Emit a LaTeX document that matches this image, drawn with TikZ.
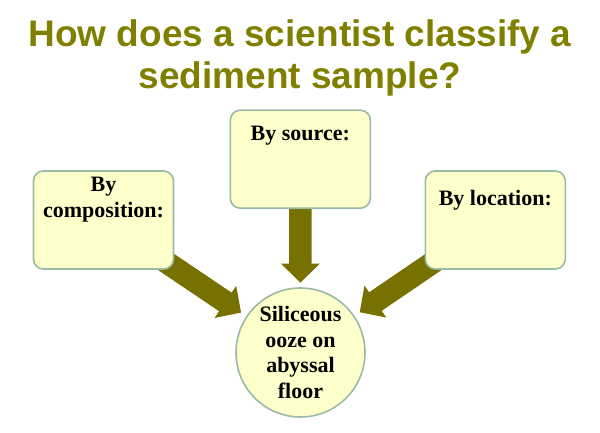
\documentclass[tikz,border=0pt]{standalone}
\usepackage{fontspec}
\setmainfont{Liberation Serif}
\newfontfamily\titlefont{Liberation Sans}
\usetikzlibrary{positioning, arrows.meta, backgrounds}
\definecolor{titleolive}{RGB}{128,128,0}
\definecolor{arrowolive}{RGB}{118,113,0}
\definecolor{boxfill}{RGB}{255,255,204}
\definecolor{boxline}{RGB}{155,186,165}

\begin{document}
\begin{tikzpicture}[x=1pt, y=-1pt,
	box/.style={draw=boxline, fill=boxfill, line width=1.6pt, rounded corners=10pt, minimum width=140pt, minimum height=98pt},
	boxtext/.style={inner sep=0pt, align=center, font=\bfseries\fontsize{22}{26}\selectfont},
	bigarrow/.style={arrowolive, line width=22.4pt, -{Triangle[width=37.6pt, length=19pt]}, shorten <=-20pt}]
	\useasboundingbox (0,0) rectangle (600,433);

	\node[font=\titlefont\bfseries\fontsize{37}{42.5}\selectfont, text=titleolive, align=center] (title) at (300,58) {How does a scientist classify a\\sediment sample?};

	\node[box] (comp) at (103.5,220) {};
	\node[box] (source) at (300.3,159.2) {};
	\node[box] (loc) at (495.3,220) {};
	\node[boxtext, below=7pt of comp.north] (comptext) {By\\composition:};
	\node[boxtext, below=16.7pt of source.north] (sourcetext) {By source:};
	\node[boxtext, below=20pt of loc.north] (loctext) {By location:};

	\node[draw=boxline, fill=boxfill, line width=1.6pt, circle, minimum size=129pt, inner sep=0pt, align=center, font=\bfseries\fontsize{22}{25.4}\selectfont] (sample) at (300.5,352.5) {Siliceous\\ooze on\\abyssal\\floor};

	\begin{pgfonlayer}{background}
		\foreach \from/\gap in {comp/6.3, source/4.5, loc/6.3}
			\draw[bigarrow, shorten >=\gap pt] (\from) -- (sample);
	\end{pgfonlayer}
\end{tikzpicture}
\end{document}
